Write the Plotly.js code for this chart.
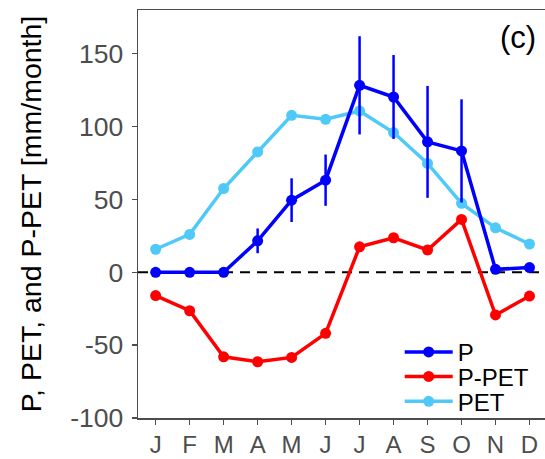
<!DOCTYPE html>
<html>
<head>
<meta charset="utf-8">
<script src="https://cdn.plot.ly/plotly-3.0.1.min.js"></script>
<style>
  html, body { margin: 0; padding: 0; background: #fff; }
  #chart { width: 545px; height: 459px; }
</style>
</head>
<body>
<div id="chart"></div>
<script>
// ---- data ----
const months = ['Jan','Feb','Mar','Apr','May','Jun','Jul','Aug','Sep','Oct','Nov','Dec'];
const monthTickText = ['J','F','M','A','M','J','J','A','S','O','N','D'];
const P      = [0, 0, 0, 21.6, 49.5, 63.2, 128.3, 120.3, 89.5, 83.3, 2.0, 3.2];
const P_err  = [0, 0, 0, 8.5, 15.0, 17.6, 33.7, 28.8, 38.4, 35.4, 0, 0];
const PET    = [15.8, 26.0, 57.5, 82.6, 107.7, 105.0, 110.7, 95.9, 74.7, 47.3, 30.5, 19.4];
const P_PET  = [-16.0, -26.4, -58.0, -61.4, -58.4, -41.9, 17.5, 23.7, 15.3, 36.3, -29.3, -16.3];
const yTickVals = [-100, -50, 0, 50, 100, 150];
const yTickText = ['-100', '-50', '0', '50', '100', '150'];
const panelLabel = '(c)';

const xIdx = months.map((m, i) => i);
const FONT = 'Liberation Sans, Arial, Helvetica, sans-serif';
const AXC = '#4d4d4d';

const traces = [
  {
    x: xIdx, y: PET, name: 'PET', type: 'scatter', mode: 'lines+markers',
    line: {color: '#4FC9F8', width: 3.5}, marker: {color: '#4FC9F8', size: 11},
    legend: 'legend3'
  },
  {
    x: xIdx, y: P_PET, name: 'P-PET', type: 'scatter', mode: 'lines+markers',
    line: {color: '#FF0000', width: 3.5}, marker: {color: '#FF0000', size: 11},
    legend: 'legend2'
  },
  {
    x: xIdx, y: P, name: 'P', type: 'scatter', mode: 'lines+markers',
    line: {color: '#0000FF', width: 3.5}, marker: {color: '#0000FF', size: 11},
    error_y: {type: 'data', array: P_err, visible: true, color: '#0000FF', thickness: 2.5, width: 0},
    legend: 'legend'
  }
];

const legendBase = {
  xanchor: 'left', yanchor: 'middle', x: 0.643,
  bgcolor: 'rgba(0,0,0,0)', borderwidth: 0, itemwidth: 48,
  font: {family: FONT, size: 24, color: '#000'}
};

const layout = {
  width: 545, height: 459,
  margin: {l: 138, r: 0, t: 10, b: 41, pad: 0},
  paper_bgcolor: '#fff', plot_bgcolor: '#fff',
  font: {family: FONT, color: AXC},
  showlegend: true,
  xaxis: {
    range: [-0.52, 11.456],
    tickmode: 'array', tickvals: xIdx, ticktext: monthTickText,
    showgrid: false, zeroline: false,
    showline: true, linecolor: AXC, linewidth: 1.5, mirror: true,
    ticks: 'outside', ticklen: 5, tickwidth: 1.5, tickcolor: AXC,
    tickfont: {family: FONT, size: 24, color: AXC}
  },
  yaxis: {
    range: [-100, 180],
    tickmode: 'array', tickvals: yTickVals, ticktext: yTickText,
    showgrid: false, zeroline: false,
    showline: true, linecolor: AXC, linewidth: 1.5,
    ticks: 'outside', ticklen: 5, tickwidth: 1.5, tickcolor: AXC,
    ticklabelstandoff: 3,
    tickfont: {family: FONT, size: 26.5, color: AXC},
    title: {text: 'P, PET, and P-PET [mm/month]', font: {family: FONT, size: 28.5, color: '#000'}, standoff: 20}
  },
  shapes: [{
    type: 'line', xref: 'paper', x0: 0, x1: 1, yref: 'y', y0: 0, y1: 0,
    line: {color: '#000', width: 2, dash: '10px,7px'}, layer: 'below'
  }],
  annotations: [{
    text: panelLabel, xref: 'paper', yref: 'paper', x: 0.934, y: 0.932,
    xanchor: 'center', yanchor: 'middle', showarrow: false,
    font: {family: FONT, size: 31, color: '#000'}
  }],
  legend:  Object.assign({}, legendBase, {y: 0.161}),
  legend2: Object.assign({}, legendBase, {y: 0.101}),
  legend3: Object.assign({}, legendBase, {y: 0.040})
};

Plotly.newPlot('chart', traces, layout, {displayModeBar: false, staticPlot: true});
</script>
</body>
</html>
